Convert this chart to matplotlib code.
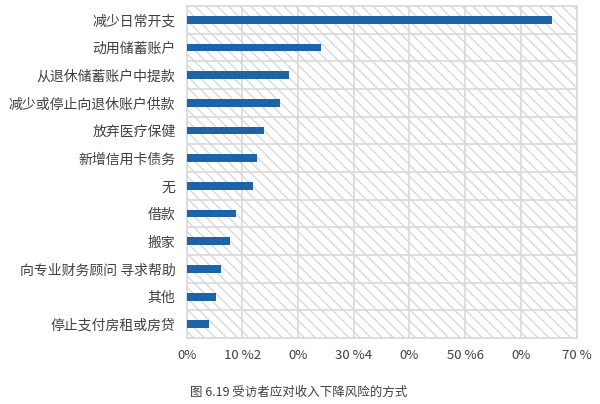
import matplotlib
matplotlib.use("Agg")
import matplotlib.pyplot as plt
from matplotlib.patches import Rectangle
import numpy as np

plt.rcParams['font.family'] = ['Noto Sans CJK SC', 'DejaVu Sans']
plt.rcParams['hatch.linewidth'] = 1.0
plt.rcParams['hatch.color'] = '#d6d6d6'

categories = ["减少日常开支", "动用储蓄账户", "从退休储蓄账户中提款", "减少或停止向退休账户供款",
              "放弃医疗保健", "新增信用卡债务", "无", "借款", "搬家",
              "向专业财务顾问 寻求帮助", "其他", "停止支付房租或房贷"]
values = [65.6, 24.1, 18.4, 16.8, 13.9, 12.6, 12.0, 8.9, 7.7, 6.2, 5.3, 4.0]
xticks = [0, 10, 20, 30, 40, 50, 60, 70]
xtick_labels = ["0%", "10 %2", "0%", "30 %4", "0%", "50 %6", "0%", "70 %"]
caption = "图 6.19 受访者应对收入下降风险的方式"

grid_c = '#d9d9d9'
text_c = '#404040'
bar_c = '#1c63a7'

fig = plt.figure(figsize=(6.0, 4.04), dpi=100)
ax = fig.add_axes([0.311, 0.163, 0.650, 0.822])

n = len(categories)
y = np.arange(n)
ax.set_xlim(0, 70)
ax.set_ylim(n - 0.5, -0.5)

# hatched background
ax.add_patch(Rectangle((0, 0), 1, 1, transform=ax.transAxes, facecolor='white',
                       edgecolor=grid_c, hatch='\\\\\\', linewidth=0, zorder=0))

# grid
for xv in xticks:
    ax.axvline(xv, color=grid_c, lw=1.2, zorder=1)
for k in range(n + 1):
    ax.axhline(k - 0.5, color=grid_c, lw=1.2, zorder=1)

ax.barh(y, values, height=0.28, color=bar_c, zorder=3)

ax.set_yticks(y)
ax.set_yticklabels(categories, fontsize=10, color=text_c)
ax.set_xticks(xticks)
ax.set_xticklabels(xtick_labels, fontsize=9.5, color=text_c)
ax.tick_params(axis='both', length=0)
ax.tick_params(axis='y', pad=8)
ax.tick_params(axis='x', pad=8)
for s in ax.spines.values():
    s.set_color(grid_c)
    s.set_linewidth(1.2)

fig.text(190 / 600, 1 - 392 / 404, caption, fontsize=9, color=text_c,
         ha='left', va='center')

fig.savefig("out.png", dpi=100)
